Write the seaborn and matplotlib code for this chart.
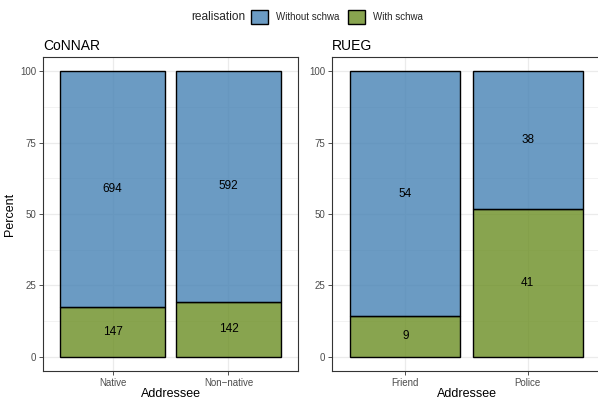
import matplotlib
matplotlib.use("Agg")
import matplotlib.pyplot as plt
from matplotlib.patches import Patch
from matplotlib.colors import to_rgba
import seaborn as sns
import pandas as pd
import numpy as np

sns.set_theme(style="white")
plt.rcParams["font.family"] = ["Liberation Sans", "DejaVu Sans"]

# Counts per corpus and addressee
corpora = ["CoNNAR", "RUEG"]
addressees = {"CoNNAR": ["Native", "Non\u2212native"], "RUEG": ["Friend", "Police"]}
without_schwa = {"CoNNAR": [694, 592], "RUEG": [54, 38]}
with_schwa = {"CoNNAR": [147, 142], "RUEG": [9, 41]}

levels = ["Without schwa", "With schwa"]
colors = {"Without schwa": "steelblue", "With schwa": "olivedrab"}
fill_alpha = 0.8

fig = plt.figure(figsize=(5.98, 4.0), dpi=100)
axes_pos = {"CoNNAR": [43 / 598, 29 / 400, 255 / 598, 314 / 400],
            "RUEG": [332 / 598, 29 / 400, 269 / 598, 314 / 400]}

grid_c = "#ebebeb"
for corpus in corpora:
    ax = fig.add_axes(axes_pos[corpus])
    cats = addressees[corpus]
    wo = np.array(without_schwa[corpus], dtype=float)
    wi = np.array(with_schwa[corpus], dtype=float)
    tot = wo + wi
    pct_with = wi / tot * 100
    pct_without = wo / tot * 100
    df = pd.DataFrame({"Addressee": cats, "without": pct_without, "with": pct_with})

    # panel grid
    for y in [0, 25, 50, 75, 100]:
        ax.axhline(y, color=grid_c, lw=0.9, zorder=0)
    for y in [12.5, 37.5, 62.5, 87.5]:
        ax.axhline(y, color=grid_c, lw=0.45, zorder=0)
    for x in range(len(cats)):
        ax.axvline(x, color=grid_c, lw=0.9, zorder=0)

    # stacked segments: "with schwa" at the bottom, "without schwa" on top
    for col, lvl, base in [("with", "With schwa", None), ("without", "Without schwa", pct_with)]:
        n_before = len(ax.patches)
        sns.barplot(data=df, x="Addressee", y=col, color=colors[lvl],
                    width=0.9, edgecolor="black", linewidth=1.0, saturation=1,
                    ax=ax, zorder=2)
        for i, p in enumerate(ax.patches[n_before:]):
            p.set_facecolor(to_rgba(colors[lvl], fill_alpha))
            p.set_edgecolor("black")
            if base is not None:
                p.set_y(base[i])

    for i in range(len(cats)):
        ax.text(i, pct_with[i] + pct_without[i] / 2, f"{int(wo[i])}",
                ha="center", va="center", fontsize=8.5, color="black", zorder=5)
        ax.text(i, pct_with[i] / 2, f"{int(wi[i])}",
                ha="center", va="center", fontsize=8.5, color="black", zorder=5)

    ax.set_xlim(-0.6, len(cats) - 0.4)
    ax.set_ylim(-5, 105)
    ax.set_yticks([0, 25, 50, 75, 100])
    ax.set_yticklabels(["0", "25", "50", "75", "100"])
    ax.tick_params(axis="both", labelsize=7, colors="#333333", length=3,
                   width=0.6, direction="out", left=True, bottom=True, pad=2)
    ax.tick_params(axis="both", labelcolor="#4d4d4d")
    ax.set_xlabel("Addressee", fontsize=9, color="black", labelpad=0)
    if corpus == "CoNNAR":
        ax.set_ylabel("Percent", fontsize=9, color="black", labelpad=3)
    else:
        ax.set_ylabel("")
    for s in ax.spines.values():
        s.set_color("#333333")
        s.set_linewidth(0.8)
    ax.set_title(corpus, loc="left", fontsize=10, color="black", pad=5)

# legend
fig.text(191 / 598, 1 - 17 / 400, "realisation", fontsize=8.6, ha="left", va="center")
handles = [Patch(facecolor=to_rgba(colors[l], fill_alpha), edgecolor="black", linewidth=1.0)
           for l in levels]
fig.legend(handles, levels, loc="center left", bbox_to_anchor=(251 / 598, 1 - 17 / 400),
           ncol=2, frameon=False, fontsize=7, handlelength=1.75, handleheight=1.85,
           handletextpad=0.8, columnspacing=0.9, borderaxespad=0, borderpad=0)

fig.savefig("out.png", dpi=100)
